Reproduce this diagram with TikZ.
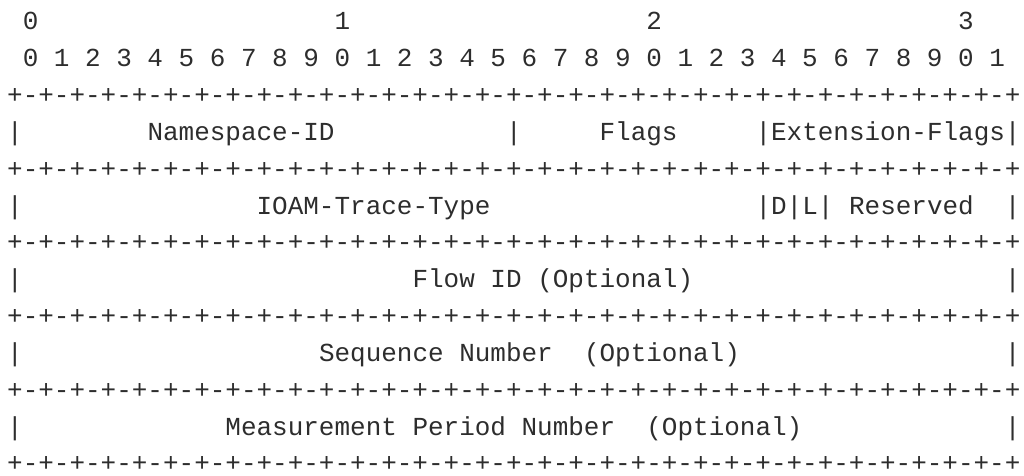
\documentclass[tikz,border=0pt]{standalone}
\usepackage{fontspec}
\setmonofont{Liberation Mono}
\definecolor{ink}{RGB}{45,45,45}
\tikzset{
  txt/.style={anchor=base west, inner sep=0pt, outer sep=0pt,
              font=\ttfamily\fontsize{25.98pt}{30pt}\selectfont, text=ink}
}
% place a piece of text at a character column / line
\newcommand\cell[4]{\node[txt] (#1) at (#2,#3) {#4};}
\newcommand\borderline{+-+-+-+-+-+-+-+-+-+-+-+-+-+-+-+-+-+-+-+-+-+-+-+-+-+-+-+-+-+-+-+-+}
\begin{document}
\begin{tikzpicture}
\useasboundingbox (0pt,0pt) rectangle (1024pt,-475pt);
\begin{scope}[shift={(7.2pt,-29.9pt)}, x=15.59pt, y=-36.83pt]
  % bit scale
  \cell{t0}{1}{0}{0}
  \cell{t1}{21}{0}{1}
  \cell{t2}{41}{0}{2}
  \cell{t3}{61}{0}{3}
  \cell{bits}{1}{1}{0 1 2 3 4 5 6 7 8 9 0 1 2 3 4 5 6 7 8 9 0 1 2 3 4 5 6 7 8 9 0 1}
  % borders
  \cell{r0}{0}{2}{\borderline}
  \cell{r1}{0}{4}{\borderline}
  \cell{r2}{0}{6}{\borderline}
  \cell{r3}{0}{8}{\borderline}
  \cell{r4}{0}{10}{\borderline}
  \cell{r5}{0}{12}{\borderline}
  % word 1
  \cell{a0}{0}{3}{|}
  \cell{ns}{9}{3}{Namespace-ID}
  \cell{a1}{32}{3}{|}
  \cell{fl}{38}{3}{Flags}
  \cell{ef}{48}{3}{|Extension-Flags|}
  % word 2
  \cell{b0}{0}{5}{|}
  \cell{tt}{16}{5}{IOAM-Trace-Type}
  \cell{dl}{48}{5}{|D|L|}
  \cell{rs}{54}{5}{Reserved}
  \cell{b1}{64}{5}{|}
  % word 3
  \cell{c0}{0}{7}{|}
  \cell{fid}{26}{7}{Flow ID (Optional)}
  \cell{c1}{64}{7}{|}
  % word 4
  \cell{d0}{0}{9}{|}
  \cell{sn}{20}{9}{Sequence Number}
  \cell{so}{37}{9}{(Optional)}
  \cell{d1}{64}{9}{|}
  % word 5
  \cell{e0}{0}{11}{|}
  \cell{mp}{14}{11}{Measurement Period Number}
  \cell{mo}{41}{11}{(Optional)}
  \cell{e1}{64}{11}{|}
\end{scope}
\end{tikzpicture}
\end{document}
